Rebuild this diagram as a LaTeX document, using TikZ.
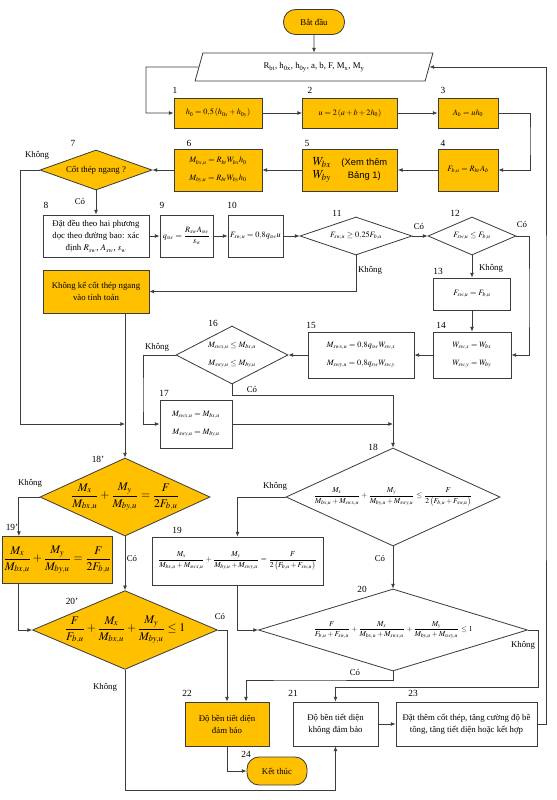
\documentclass[tikz,border=0pt]{standalone}
\usepackage{amsmath}
\usepackage{mathptmx}
\usepackage{fontspec}
\setmainfont{Liberation Serif}
\setsansfont{Liberation Sans}
\usetikzlibrary{shapes.geometric,arrows.meta}

\newlength\pxu
\setlength\pxu{0.03cm}
\definecolor{boxorange}{HTML}{FFC000}
\definecolor{edgegray}{HTML}{3C3C3C}

\tikzset{
    cell/.style 2 args = {draw=edgegray, line width=0.7pt, inner sep=1pt, align=center,
        minimum width=#1\pxu, minimum height=#2\pxu, font=\fontsize{7.5}{10}\selectfont},
    procbox/.style 2 args = {cell={#1}{#2}, rectangle},
    hotbox/.style 2 args = {procbox={#1}{#2}, fill=boxorange},
    askbox/.style 2 args = {cell={#1}{#2}, diamond, inner sep=0pt},
    hotask/.style 2 args = {askbox={#1}{#2}, fill=boxorange},
    termbox/.style 2 args = {hotbox={#1}{#2}, rounded corners=12\pxu},
    inbox/.style = {cell={240}{28}, trapezium, trapezium left angle=72,
        trapezium right angle=108, trapezium stretches=true},
    mathsm/.style = {font=\fontsize{7}{15}\selectfont},
    mathtiny/.style = {font=\fontsize{6.5}{8}\selectfont},
    mathbig/.style = {font=\fontsize{10}{12}\selectfont},
    num/.style = {inner sep=0pt, font=\fontsize{8}{9}\selectfont},
    ans/.style = {inner sep=0pt, font=\fontsize{7.5}{9}\selectfont},
    flow/.style = {->, draw=edgegray, line width=0.7pt}
}

\begin{document}
\begin{tikzpicture}[x=0.03cm, y=-0.03cm, >={Latex[length=4pt,width=3.4pt]}]
    \useasboundingbox (0,0) rectangle (557,800);

    % start, input, first two rows
    \node[termbox={61}{25}] (start) at (314,22) {Bắt đầu};
    \node[inbox] (inp) at (314,67) {R\textsubscript{bt}, h\textsubscript{0x}, h\textsubscript{0y}, a, b, F, M\textsubscript{x}, M\textsubscript{y}};
    \node[hotbox={88}{30}, mathsm] (b1) at (218,113) {$h_0 = 0{,}5\left(h_{0x}+h_{0y}\right)$};
    \node[hotbox={95}{30}, mathsm] (b2) at (350,113) {$u = 2\left(a+b+2h_0\right)$};
    \node[hotbox={60}{30}, mathsm] (b3) at (468,113) {$A_b = uh_0$};
    \node[hotbox={60}{42}, mathsm] (b4) at (468,170) {$F_{b,u} = R_{bt}A_b$};
    \node[hotbox={95}{42}, font=\fontsize{8}{10}\sffamily] (b5) at (350,170)
        {\begin{tabular}{@{}l@{\hspace{9pt}}c@{}}
        {\fontsize{10.5}{12}\selectfont$W_{bx}$} & (Xem thêm\\[1pt]
        {\fontsize{10.5}{12}\selectfont$W_{by}$} & Bảng 1)
        \end{tabular}};
    \node[hotbox={88}{42}, mathsm] (b6) at (218,170) {$M_{bx,u} = R_{bt}W_{bx}h_0$\\$M_{by,u} = R_{bt}W_{by}h_0$};
    \node[hotask={112}{40}, aspect=2.8] (d7) at (96,170) {Cốt thép ngang ?};

    % transverse reinforcement branch
    \node[procbox={106}{42}, font=\fontsize{7.5}{10.5}\selectfont] (b8) at (96,236)
        {Đặt đều theo hai phương\\dọc theo đường bao: xác\\định $R_{sw}$, $A_{sw}$, $s_w$};
    \node[procbox={53}{42}, mathsm] (b9) at (186.5,236) {$q_{sw} = \dfrac{R_{sw}A_{sw}}{s_w}$};
    \node[procbox={55}{42}, mathsm] (b10) at (255.5,236) {$F_{sw,u} = 0{,}8q_{sw}u$};
    \node[askbox={112}{38}, aspect=2.95, mathsm] (d11) at (356,236) {$F_{sw,u} \ge 0{,}25F_{b,u}$};
    \node[askbox={88}{38}, aspect=2.3, mathsm] (d12) at (472,236) {$F_{sw,u} \le F_{b,u}$};
    \node[procbox={77}{32}, mathsm] (b13) at (472,294) {$F_{sw,u} = F_{b,u}$};
    \node[hotbox={106}{43}] (bk) at (96,291.5) {Không kể cốt thép ngang\\vào tính toán};
    \node[procbox={78}{46}, mathsm] (b14) at (472,355) {$W_{sw,x} = W_{bx}$\\$W_{sw,y} = W_{by}$};
    \node[procbox={106}{46}, mathsm] (b15) at (361,355) {$M_{swx,u} = 0{,}8q_{sw}W_{sw,x}$\\$M_{swy,u} = 0{,}8q_{sw}W_{sw,y}$};
    \node[askbox={112}{58}, aspect=1.93, mathsm] (d16) at (232,355) {$M_{swx,u} \le M_{bx,u}$\\$M_{swy,u} \le M_{by,u}$};
    \node[procbox={72}{48}, mathsm] (b17) at (196,424) {$M_{swx,u} = M_{bx,u}$\\$M_{swy,u} = M_{by,u}$};

    % checks
    \node[hotask={170}{78}, aspect=2.18, mathbig] (d18p) at (125,497)
        {$\dfrac{M_x}{M_{bx,u}} + \dfrac{M_y}{M_{by,u}} = \dfrac{F}{2F_{b,u}}$};
    \node[askbox={214}{98}, aspect=2.18, mathtiny] (d18) at (393,497)
        {$\dfrac{M_x}{M_{bx,u}+M_{swx,u}} + \dfrac{M_y}{M_{by,u}+M_{swy,u}} \le \dfrac{F}{2\left(F_{b,u}+F_{sw,u}\right)}$};
    \node[hotbox={105}{47}, mathbig] (b19p) at (57.5,560)
        {$\dfrac{M_x}{M_{bx,u}} + \dfrac{M_y}{M_{by,u}} = \dfrac{F}{2F_{b,u}}$};
    \node[procbox={171}{48}, mathtiny] (b19) at (237.5,561)
        {$\dfrac{M_x}{M_{bx,u}+M_{swx,u}} + \dfrac{M_y}{M_{by,u}+M_{swy,u}} = \dfrac{F}{2\left(F_{b,u}+F_{sw,u}\right)}$};
    \node[hotask={183}{78}, aspect=2.35, mathbig] (d20p) at (125,630)
        {$\dfrac{F}{F_{b,u}} + \dfrac{M_x}{M_{bx,u}} + \dfrac{M_y}{M_{by,u}} \le 1$};
    \node[askbox={269}{82}, aspect=3.28, mathtiny] (d20) at (393,630)
        {$\dfrac{F}{F_{b,u}+F_{sw,u}} + \dfrac{M_x}{M_{bx,u}+M_{swx,u}} + \dfrac{M_y}{M_{by,u}+M_{swy,u}} \le 1$};

    % results
    \node[hotbox={84}{44}] (b22) at (227,724) {Độ bền tiết diện\\đảm bảo};
    \node[procbox={85}{44}] (b21) at (335.5,724) {Độ bền tiết diện\\không đảm bảo};
    \node[procbox={141}{44}] (b23) at (466.5,724) {Đặt thêm cốt thép, tăng cường độ bê\\tông, tăng tiết diện hoặc kết hợp};
    \node[termbox={60}{28}] (end) at (277,771) {Kết thúc};

    % step numbers
    \foreach \t/\x/\y in {1/175/90, 2/310/90, 3/443/90, 4/443/143, 5/307/143, 6/189/143,
        7/73/143, 8/46/205, 9/162/205, 10/232/205, 11/337/213, 12/455/213, 13/438/271,
        14/441/325, 15/311/325, 16/213/323, 17/164/393, 18/373/447, 19/177/530,
        20/362/589, 21/293/693, 22/187/693, 23/413/693, 24/246/754}
        \node[num] (n\t) at (\x,\y) {\t};
    \node[num] (n18p) at (98,459) {18'};
    \node[num] (n19p) at (12,527) {19'};
    \node[num] (n20p) at (72,601) {20'};

    % yes / no labels
    \foreach \tx/\x/\y [count=\i] in {Không/37/155, Có/80/201, Có/419/226, Có/522/224,
        Không/370/270, Không/491/268, Không/157/347, Có/252/389, Không/30/483,
        Có/132/558, Không/275/486, Có/380/558, Có/220/616, Không/105/687,
        Có/355/672, Không/523/645}
        \node[ans] (ans\i) at (\x,\y) {\tx};

    % bend points
    \coordinate (k1) at (146,67);
    \coordinate (k2) at (530,140);
    \coordinate (k3) at (20,424);
    \coordinate (j1) at (125,424);
    \coordinate (k4) at (529,300);
    \coordinate (k5) at (143,400);
    \coordinate (k6) at (393,395);
    \coordinate (j2) at (393,424);
    \coordinate (k8) at (200,790);
    \coordinate (k9) at (300,680);
    \coordinate (k10) at (538,687);
    \coordinate (k11) at (546,400);

    % connectors
    \draw[flow] (start) -- (inp);
    \draw[flow] (inp.west) -- (k1) |- (b1.west);
    \draw[flow] (b1) -- (b2);
    \draw[flow] (b2) -- (b3);
    \draw[flow] (b3.east) -| (k2) |- (b4.east);
    \draw[flow] (b4) -- (b5);
    \draw[flow] (b5) -- (b6);
    \draw[flow] (b6) -- (d7);
    \draw[flow] (d7.west) -| (k3) -- (j1);
    \draw[flow] (d7) -- (b8);
    \draw[flow] (b8) -- (b9);
    \draw[flow] (b9) -- (b10);
    \draw[flow] (b10) -- (d11);
    \draw[flow] (d11) -- (d12);
    \draw[flow] (d11.south) |- (bk.east);
    \draw[flow] (d12) -- (b13);
    \draw[flow] (d12.east) -| (k4) |- (b14.east);
    \draw[flow] (b13) -- (b14);
    \draw[flow] (b14) -- (b15);
    \draw[flow] (b15) -- (d16);
    \draw[flow] (d16.west) -| (k5) |- (b17.west);
    \draw[flow] (d16.south) |- (k6) -- (d18.north);
    \draw[flow] (b17.east) -- (j2);
    \draw[flow] (bk.south -| d18p.north) -- (d18p.north);
    \draw[flow] (d18p.west) -| ([xshift=17\pxu]b19p.north west);
    \draw[flow] (d18p) -- (d20p);
    \draw[flow] ([xshift=17\pxu]b19p.south west) |- (d20p.west);
    \draw[flow] (d20p.east) -| (b22.north);
    \draw[flow] (d20p.south) |- (k8) -| (b21.south);
    \draw[flow] (d18.west) -| (b19.north);
    \draw[flow] (d18) -- (d20);
    \draw[flow] (b19.south) |- (d20.west);
    \draw[flow] (d20.south) |- (k9) -| ([xshift=19\pxu]b22.north);
    \draw[flow] (d20.east) -| (k10) -| (b21.north);
    \draw[flow] (b21) -- (b23);
    \draw[flow] (b23.east) -| (k11) |- (inp.east);
    \draw[flow] (b22.south) |- (end.west);
\end{tikzpicture}
\end{document}
